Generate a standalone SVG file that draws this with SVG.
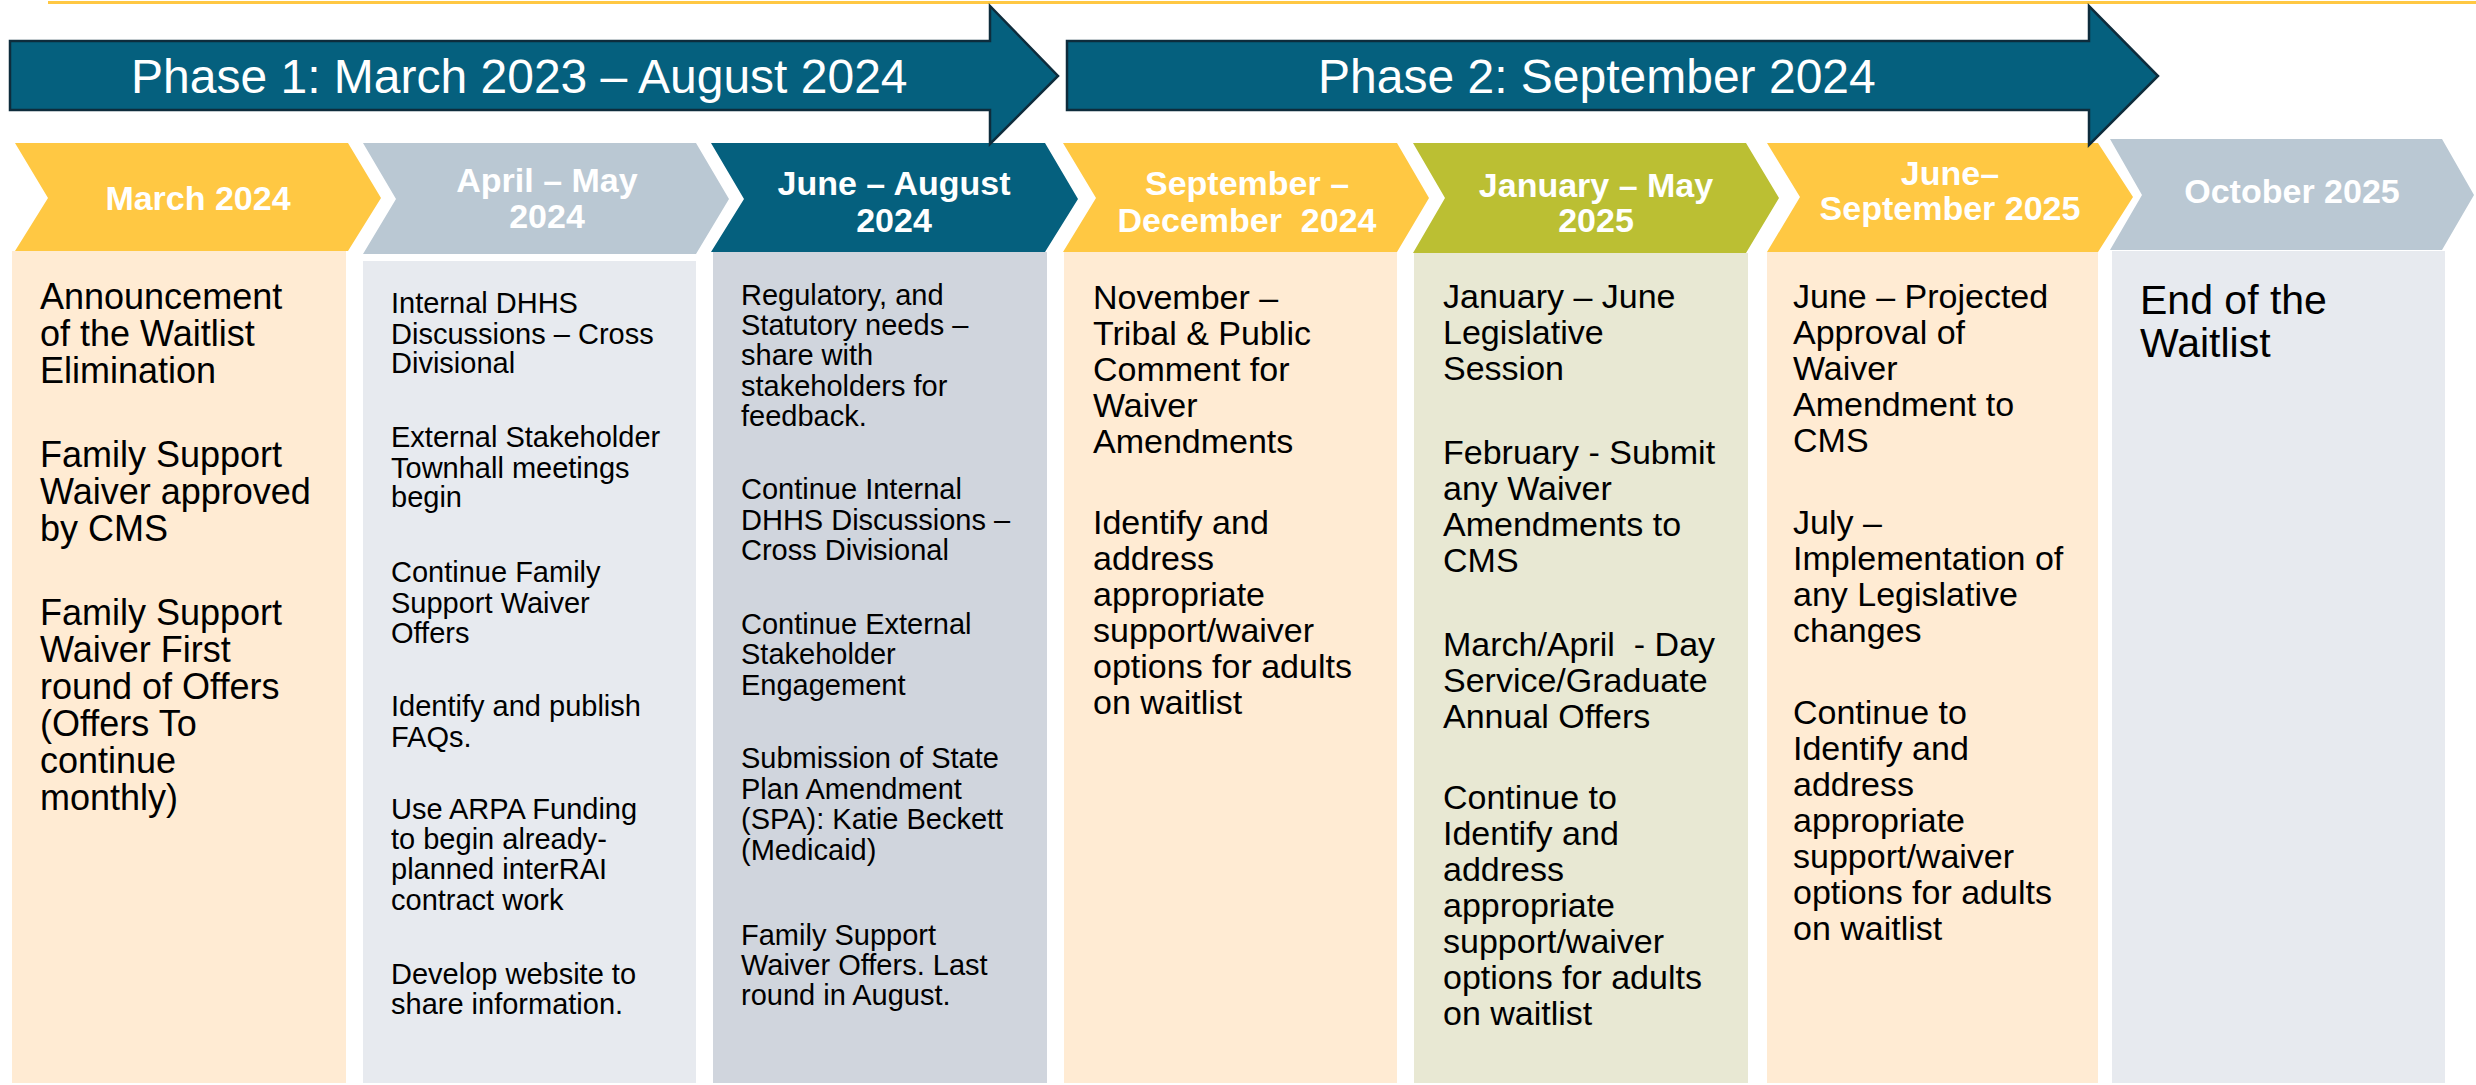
<svg xmlns="http://www.w3.org/2000/svg" width="2476" height="1085" viewBox="0 0 2476 1085">
<style>
.phase{fill:#05607E;stroke:#0E2C3C;stroke-width:2.5}
.ptxt{font-family:"Liberation Sans",Arial,sans-serif;font-size:48px;fill:#fff}
.hd{font-family:"Liberation Sans",Arial,sans-serif;font-size:34px;font-weight:bold;fill:#fff;text-anchor:middle}
.yel{fill:#FFC843}.gry{fill:#BAC8D3}.dbl{fill:#05607E}.olv{fill:#BBBF33}
.peach{fill:#FFEBD3}.lgry{fill:#E7EAEF}.mgry{fill:#D0D5DD}.lolv{fill:#E8E8D3}
.t{font-family:"Liberation Sans",Arial,sans-serif;fill:#000}
.s36{font-size:36px}.s34{font-size:34px}.s29{font-size:29px}.s41{font-size:41px}
</style>
<rect width="2476" height="1085" fill="#fff"/>
<line x1="48" y1="2.5" x2="2476" y2="2.5" stroke="#FFC843" stroke-width="3"/>

<g id="col1">
<rect class="peach" x="12" y="251" width="334" height="832"/>
<polygon class="yel" points="15,143 348,143 381,198 348,251 15,251 48,198"/>
<text class="hd" x="198" y="210">March 2024</text>
<text class="t s36" x="40">
<tspan x="40" y="309">Announcement</tspan><tspan x="40" y="346">of the Waitlist</tspan><tspan x="40" y="383">Elimination</tspan>
<tspan x="40" y="467">Family Support</tspan><tspan x="40" y="504">Waiver approved</tspan><tspan x="40" y="541">by CMS</tspan>
<tspan x="40" y="625">Family Support</tspan><tspan x="40" y="662">Waiver First</tspan><tspan x="40" y="699">round of Offers</tspan><tspan x="40" y="736">(Offers To</tspan><tspan x="40" y="773">continue</tspan><tspan x="40" y="810">monthly)</tspan>
</text>
</g>

<g id="col2">
<rect class="lgry" x="363" y="261" width="333" height="822"/>
<polygon class="gry" points="363,143 696,143 729,199 696,254 363,254 396,199"/>
<text class="hd" x="547" y="192">April – May<tspan x="547" y="228">2024</tspan></text>
<text class="t s29">
<tspan x="391" y="313">Internal DHHS</tspan><tspan x="391" y="343.5">Discussions – Cross</tspan><tspan x="391" y="373">Divisional</tspan>
<tspan x="391" y="447">External Stakeholder</tspan><tspan x="391" y="477.5">Townhall meetings</tspan><tspan x="391" y="507">begin</tspan>
<tspan x="391" y="582">Continue Family</tspan><tspan x="391" y="612.5">Support Waiver</tspan><tspan x="391" y="642.5">Offers</tspan>
<tspan x="391" y="716">Identify and publish</tspan><tspan x="391" y="746.5">FAQs.</tspan>
<tspan x="391" y="819">Use ARPA Funding</tspan><tspan x="391" y="849">to begin already-</tspan><tspan x="391" y="879">planned interRAI</tspan><tspan x="391" y="909.5">contract work</tspan>
<tspan x="391" y="984">Develop website to</tspan><tspan x="391" y="1014">share information.</tspan>
</text>
</g>

<g id="col3">
<rect class="mgry" x="713" y="252" width="334" height="831"/>
<polygon class="dbl" points="711,143 1045,143 1078,199 1045,252 711,252 744,199"/>
<text class="hd" x="894" y="195">June – August<tspan x="894" y="232">2024</tspan></text>
<text class="t s29">
<tspan x="741" y="304.5">Regulatory, and</tspan><tspan x="741" y="335">Statutory needs –</tspan><tspan x="741" y="365">share with</tspan><tspan x="741" y="395.5">stakeholders for</tspan><tspan x="741" y="426">feedback.</tspan>
<tspan x="741" y="499">Continue Internal</tspan><tspan x="741" y="529.5">DHHS Discussions –</tspan><tspan x="741" y="560">Cross Divisional</tspan>
<tspan x="741" y="634">Continue External</tspan><tspan x="741" y="664">Stakeholder</tspan><tspan x="741" y="694.5">Engagement</tspan>
<tspan x="741" y="768">Submission of State</tspan><tspan x="741" y="798.5">Plan Amendment</tspan><tspan x="741" y="829">(SPA): Katie Beckett</tspan><tspan x="741" y="859.5">(Medicaid)</tspan>
<tspan x="741" y="945">Family Support</tspan><tspan x="741" y="975">Waiver Offers. Last</tspan><tspan x="741" y="1005">round in August.</tspan>
</text>
</g>

<g id="col4">
<rect class="peach" x="1064" y="252" width="333" height="831"/>
<polygon class="yel" points="1063,143 1397,143 1429,198 1397,252 1063,252 1096,198"/>
<text class="hd" x="1247" y="195" xml:space="preserve">September –<tspan x="1247" y="232">December  2024</tspan></text>
<text class="t s34">
<tspan x="1093" y="309">November –</tspan><tspan x="1093" y="345">Tribal &amp; Public</tspan><tspan x="1093" y="381">Comment for</tspan><tspan x="1093" y="417">Waiver</tspan><tspan x="1093" y="453">Amendments</tspan>
<tspan x="1093" y="534">Identify and</tspan><tspan x="1093" y="570">address</tspan><tspan x="1093" y="606">appropriate</tspan><tspan x="1093" y="642">support/waiver</tspan><tspan x="1093" y="678">options for adults</tspan><tspan x="1093" y="714">on waitlist</tspan>
</text>
</g>

<g id="col5">
<rect class="lolv" x="1414" y="253" width="334" height="830"/>
<polygon class="olv" points="1413,143 1746,143 1779,198 1746,253 1413,253 1445,198"/>
<text class="hd" x="1596" y="197">January – May<tspan x="1596" y="232">2025</tspan></text>
<text class="t s34">
<tspan x="1443" y="308">January – June</tspan><tspan x="1443" y="344">Legislative</tspan><tspan x="1443" y="380">Session</tspan>
<tspan x="1443" y="464">February - Submit</tspan><tspan x="1443" y="500">any Waiver</tspan><tspan x="1443" y="536">Amendments to</tspan><tspan x="1443" y="572">CMS</tspan>
<tspan x="1443" y="656" xml:space="preserve">March/April  - Day</tspan><tspan x="1443" y="692">Service/Graduate</tspan><tspan x="1443" y="728">Annual Offers</tspan>
<tspan x="1443" y="809">Continue to</tspan><tspan x="1443" y="845">Identify and</tspan><tspan x="1443" y="881">address</tspan><tspan x="1443" y="917">appropriate</tspan><tspan x="1443" y="953">support/waiver</tspan><tspan x="1443" y="989">options for adults</tspan><tspan x="1443" y="1025">on waitlist</tspan>
</text>
</g>

<g id="col6">
<rect class="peach" x="1767" y="252" width="331" height="831"/>
<polygon class="yel" points="1767,143 2098,143 2133,197 2098,252 1767,252 1800,197"/>
<text class="hd" x="1950" y="185">June–<tspan x="1950" y="220">September 2025</tspan></text>
<text class="t s34">
<tspan x="1793" y="308">June – Projected</tspan><tspan x="1793" y="344">Approval of</tspan><tspan x="1793" y="380">Waiver</tspan><tspan x="1793" y="416">Amendment to</tspan><tspan x="1793" y="452">CMS</tspan>
<tspan x="1793" y="534">July –</tspan><tspan x="1793" y="570">Implementation of</tspan><tspan x="1793" y="606">any Legislative</tspan><tspan x="1793" y="642">changes</tspan>
<tspan x="1793" y="724">Continue to</tspan><tspan x="1793" y="760">Identify and</tspan><tspan x="1793" y="796">address</tspan><tspan x="1793" y="832">appropriate</tspan><tspan x="1793" y="868">support/waiver</tspan><tspan x="1793" y="904">options for adults</tspan><tspan x="1793" y="940">on waitlist</tspan>
</text>
</g>

<g id="col7">
<rect class="lgry" x="2112" y="251" width="333" height="832"/>
<polygon class="gry" points="2110,139 2442,139 2474,195 2442,250 2110,250 2142,195"/>
<text class="hd" x="2292" y="203">October 2025</text>
<text class="t s41">
<tspan x="2140" y="314">End of the</tspan><tspan x="2140" y="357">Waitlist</tspan>
</text>
</g>

<g id="phase1">
<polygon class="phase" points="10,41 990,41 990,6 1058,76 990,144 990,110 10,110"/>
<text class="ptxt" x="131" y="93">Phase 1: March 2023 – August 2024</text>
</g>
<g id="phase2">
<polygon class="phase" points="1067,41 2089,41 2089,6 2158,76 2089,145 2089,110 1067,110"/>
<text class="ptxt" x="1318" y="93">Phase 2: September 2024</text>
</g>
<g id="connectors"/>
</svg>
